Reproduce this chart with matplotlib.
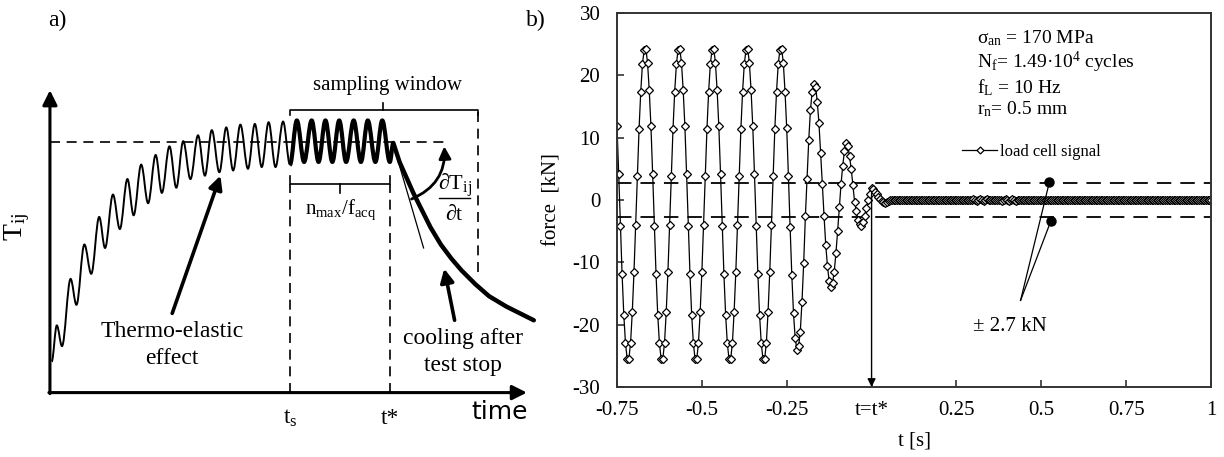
import numpy as np
import matplotlib
matplotlib.use("Agg")
import matplotlib.pyplot as plt
from matplotlib.path import Path
from matplotlib.patches import PathPatch

plt.rcParams['font.family'] = ['Liberation Serif', 'DejaVu Serif']
plt.rcParams['mathtext.fontset'] = 'custom'
plt.rcParams['mathtext.rm'] = 'Liberation Serif'
plt.rcParams['mathtext.it'] = 'Liberation Serif:italic'
plt.rcParams['axes.unicode_minus'] = False

# ---------------- panel a) : schematic temperature signal ----------------
# extremes of the oscillating temperature (arbitrary units)
rise_t = [0.5, 2.0, 3.5, 6.0, 7.7, 10.0, 12.0, 14.3, 16.0, 18.3, 20.3, 22.5, 24.3,
          26.5, 28.5, 30.7, 32.5, 34.7, 36.7, 38.7, 40.8, 43.0, 45.0, 47.0, 49.2,
          51.2, 53.2, 55.3, 57.5, 59.5, 61.5, 63.5, 65.5, 67.7, 69.7]
rise_T = [9.0, 19.5, 13.5, 33.0, 25.5, 43.0, 34.5, 51.0, 42.0, 57.5, 47.5, 62.0, 51.5,
          66.2, 55.0, 69.0, 58.0, 71.5, 59.5, 73.0, 62.0, 74.7, 63.0, 76.2, 64.0,
          77.0, 64.5, 77.8, 65.0, 78.0, 65.5, 78.5, 65.5, 78.7, 66.2]
window_t = [69.7, 71.7, 73.8, 76.0, 78.0, 80.0, 82.0, 84.0, 86.0, 88.2, 90.3,
            92.3, 94.5, 96.5, 98.7, 99.7]
window_T = [66.2, 79.0, 67.0, 79.0, 67.0, 79.0, 67.0, 79.0, 67.0, 79.0, 67.0,
            79.0, 67.0, 79.0, 67.0, 72.5]
cool_t = [99.7, 101.5, 103.5, 105.5, 108.0, 110.5, 113.5, 116.5, 119.5, 123.5,
          127.5, 132.5, 137.5, 140.5]
cool_T = [72.5, 67.0, 62.5, 58.0, 53.0, 48.0, 43.0, 39.0, 35.5, 31.5, 28.0,
          25.0, 22.5, 21.0]
mean_T = 72.8
t_s, t_star = 69.7, 98.7

# ---------------- panel b) : load cell signal ----------------
t0, dt = -0.75, 0.005
force = [
    11.8, 4.2, -4.1, -11.9, -18.4, -23.0, -25.5, -25.5, -22.9, -18.0,
    -11.6, -4.0, 3.8, 11.4, 17.4, 21.8, 24.1, 24.3, 22.0, 17.6,
    11.8, 4.2, -4.1, -11.9, -18.4, -23.0, -25.5, -25.5, -22.9, -18.0,
    -11.6, -4.0, 3.8, 11.4, 17.4, 21.8, 24.1, 24.3, 22.0, 17.6,
    11.8, 4.2, -4.1, -11.9, -18.4, -23.0, -25.5, -25.5, -22.9, -18.0,
    -11.6, -4.0, 3.8, 11.4, 17.4, 21.8, 24.1, 24.3, 22.0, 17.6,
    11.8, 4.2, -4.1, -11.9, -18.4, -23.0, -25.5, -25.5, -22.9, -18.0,
    -11.6, -4.0, 3.8, 11.4, 17.4, 21.8, 24.1, 24.3, 22.0, 17.6,
    11.8, 4.2, -4.1, -11.9, -18.4, -23.0, -25.5, -25.5, -22.9, -18.0,
    -11.6, -4.0, 3.8, 11.4, 17.4, 21.8, 24.1, 24.3,
    22.0, 17.4, 11.5, 3.9, -4.4, -12.0, -18.2, -22.2, -24.0, -23.5,
    -21.1, -16.3, -10.1, -2.6, 3.4, 9.7, 14.5, 17.4, 18.6, 18.2,
    15.8, 12.3, 7.5, 2.5, -2.6, -7.2, -10.6, -13.0, -13.9, -13.3,
    -11.5, -8.5, -5.0, -1.2, 2.5, 5.5, 7.8, 9.2, 8.7, 7.0,
    5.0, 2.4, -0.3, -1.8, -3.2, -3.9, -4.1, -3.6, -2.5, -1.3,
    0.0, 1.0, 1.9, 1.8, 1.3, 0.9, 0.5, 0.1, -0.2, -0.4,
    -0.5, -0.4, -0.2, 0.0,
    0.0, 0.0, 0.0, 0.0, 0.0, 0.0, 0.0, 0.0, 0.0, 0.0, 0.0, 0.0, 0.0, 0.0, 0.0, 0.0, 0.0, 0.0, 0.0, 0.0, 0.0,
    0.0, 0.0, 0.0, 0.0, 0.0, 0.0, 0.0, 0.0, 0.0, 0.0, 0.0, 0.0, 0.0, 0.0, 0.0, 0.0, 0.0, 0.0, 0.0, 0.0, 0.0,
    0.0, 0.0, 0.0, 0.0, 0.0, 0.0, 0.1, 0.0, -0.1, 0.0, 0.1, 0.0, -0.1, 0.0, 0.1, 0.0, 0.0, 0.0, 0.0, 0.0, 0.0,
    0.0, 0.0, -0.1, 0.0, 0.1, 0.0, -0.1, 0.0, 0.1, 0.0, -0.1, 0.0, 0.0, 0.0, 0.0, 0.0, 0.0, 0.0, 0.0, 0.0, 0.0,
    0.0, 0.0, 0.0, 0.0, 0.0, 0.0, 0.0, 0.0, 0.0, 0.0, 0.0, 0.0, 0.0, 0.0, 0.0, 0.0, 0.0, 0.0, 0.0, 0.0, 0.0,
    0.0, 0.0, 0.0, 0.0, 0.0, 0.0, 0.0, 0.0, 0.0, 0.0, 0.0, 0.0, 0.0, 0.0, 0.0, 0.0, 0.0, 0.0, 0.0, 0.0, 0.0,
    0.0, 0.0, 0.0, 0.0, 0.0, 0.0, 0.0, 0.0, 0.0, 0.0, 0.0, 0.0, 0.0, 0.0, 0.0, 0.0, 0.0, 0.0, 0.0, 0.0, 0.0,
    0.0, 0.0, 0.0, 0.0, 0.0, 0.0, 0.0, 0.0, 0.0, 0.0, 0.0, 0.0, 0.0, 0.0, 0.0, 0.0, 0.0, 0.0, 0.0, 0.0, 0.0,
    0.0, 0.0, 0.0, 0.0, 0.0, 0.0, 0.0, 0.0, 0.0, 0.0, 0.0, 0.0, 0.0, 0.0, 0.0, 0.0, 0.0, 0.0, 0.0, 0.0, 0.0,
]
time_s = t0 + dt * np.arange(len(force))
band = 2.7
dot_t = [0.524, 0.528]
dot_F = [2.9, -3.4]
xtick_vals = [-0.75, -0.5, -0.25, 0.0, 0.25, 0.5, 0.75, 1.0]
xtick_txt = ['-0.75', '-0.5', '-0.25', 't=t*', '0.25', '0.5', '0.75', '1']
ytick_vals = [-30, -20, -10, 0, 10, 20, 30]

W, H = 1224, 457
fig = plt.figure(figsize=(W / 100, H / 100), dpi=100)


def wave_path(ts, vs):
    # half-cosine like bezier between consecutive extremes
    verts = [(ts[0], vs[0])]
    codes = [Path.MOVETO]
    for i in range(1, len(ts)):
        d = ts[i] - ts[i - 1]
        verts += [(ts[i - 1] + 0.36 * d, vs[i - 1]), (ts[i] - 0.36 * d, vs[i]), (ts[i], vs[i])]
        codes += [Path.CURVE4] * 3
    return Path(verts, codes)


# ---- panel a
axa = fig.add_axes([0, 0, 540 / W, 1])
axa.set_xlim(-14.5, 142.3)
axa.set_ylim(-18.7, 114.0)
axa.axis('off')

arr = dict(arrowstyle='-|>', lw=2.2, color='black', mutation_scale=22, shrinkA=0, shrinkB=0)
axa.annotate('', xy=(0, 87.8), xytext=(0, -0.3), arrowprops=arr)
axa.annotate('', xy=(138.5, 0), xytext=(-0.3, 0), arrowprops=arr)

dash = dict(color='black', lw=1.2, dashes=(6, 4))
axa.plot([0, 115.5], [mean_T, mean_T], **dash)
axa.plot([t_s, t_s], [0, 60.5], **dash)
axa.plot([t_star, t_star], [0, 60.5], **dash)
axa.plot([124.3, 124.3], [35, 82.2], **dash)

axa.add_patch(PathPatch(wave_path(rise_t, rise_T), fill=False, lw=1.4, color='black'))
axa.add_patch(PathPatch(wave_path(window_t, window_T), fill=False, lw=3.0, color='black'))
axa.plot(cool_t, cool_T, color='black', lw=3.2, solid_capstyle='round', clip_on=False)
axa.plot([100.3, 108.5], [70, 42], color='black', lw=0.9)

# brackets
br = dict(color='black', lw=1.2)
axa.plot([69.8, 69.8, 124.3, 124.3], [80.5, 82.2, 82.2, 80.5], **br)
axa.plot([96.8, 96.8], [82.2, 84.0], **br)
axa.plot([t_s, t_s, t_star, t_star], [63, 60.5, 60.5, 63], **br)
axa.plot([84.2, 84.2], [60.5, 58.0], **br)

axa.text(98.0, 89.2, 'sampling window', ha='center', va='center', fontsize=15)
axa.text(84.5, 53.0, r'$\mathrm{n_{max}/f_{acq}}$', ha='center', va='center', fontsize=15)
axa.text(35.5, 13.8, 'Thermo-elastic\neffect', ha='center', va='center', fontsize=17,
         linespacing=1.4)
axa.text(120.0, 11.8, 'cooling after\ntest stop', ha='center', va='center', fontsize=17,
         linespacing=1.4)
axa.text(117.5, 60.3, r'$\mathrm{∂T_{ij}}$', ha='center', va='center', fontsize=16)
axa.text(117.5, 51.5, r'$\mathrm{∂t}$', ha='center', va='center', fontsize=16)
axa.plot([113.0, 122.0], [56.5, 56.5], color='black', lw=1.0)
axa.text(-9.6, 48.1, r'$\mathrm{T_{ij}}$', rotation=90, ha='center', va='center', fontsize=20)
axa.text(t_s, -7.5, r'$\mathrm{t_s}$', ha='center', va='center', fontsize=17)
axa.text(t_star, -7.5, 't*', ha='center', va='center', fontsize=17)
axa.text(130.5, -5.5, 'time', ha='center', va='center', fontsize=18, family='DejaVu Sans')

thick = dict(arrowstyle='-|>', lw=2.6, color='black', mutation_scale=20, shrinkA=0, shrinkB=0)
axa.annotate('', xy=(49.5, 63.0), xytext=(35.5, 23.0), arrowprops=thick)
axa.annotate('', xy=(114.5, 36.0), xytext=(117.5, 21.0), arrowprops=thick)
axa.annotate('', xy=(114.5, 71.5), xytext=(105.0, 56.2),
             arrowprops=dict(arrowstyle='-|>', lw=2.0, color='black', mutation_scale=18,
                             shrinkA=0, shrinkB=0, connectionstyle='arc3,rad=0.35'))

fig.text(57 / W, 1 - 20 / H, 'a)', ha='center', va='center', fontsize=17)
fig.text(536 / W, 1 - 20 / H, 'b)', ha='center', va='center', fontsize=17)

# ---- panel b
ax = fig.add_axes([617 / W, 1 - 387 / H, 594 / W, 374 / H])
ax.axhline(band, color='black', lw=1.3, dashes=(8, 5))
ax.axhline(-band, color='black', lw=1.3, dashes=(8, 5))
ax.plot(time_s, force, color='black', lw=0.9, marker='D', ms=4.4, mfc='white',
        mec='black', mew=0.9, label='load cell signal')
ax.annotate('', xy=(0.0, -30), xytext=(0.0, 1.2),
            arrowprops=dict(arrowstyle='-|>', lw=1.0, color='black', mutation_scale=12,
                            shrinkA=0, shrinkB=0))
for dtt, dF in zip(dot_t, dot_F):
    ax.plot([0.439, dtt], [-16.1, dF], color='black', lw=0.9)
ax.plot(dot_t, dot_F, 'o', color='black', ms=6.5)
ax.text(0.408, -20.3, '± 2.7 kN', ha='center', va='center', fontsize=15)

ax.text(0.31, 26.0, r'$\mathrm{σ_{an}}$ = 170 MPa', ha='left', va='center', fontsize=14)
ax.text(0.31, 22.0, r'$\mathrm{N_f}$= 1.49·10$^4$ cycles', ha='left', va='center', fontsize=14)
ax.text(0.31, 18.1, r'$\mathrm{f_L}$ = 10 Hz', ha='left', va='center', fontsize=14)
ax.text(0.31, 14.5, r'$\mathrm{r_n}$= 0.5 mm', ha='left', va='center', fontsize=14)

ax.legend(loc='center left', bbox_to_anchor=((962 - 617) / 594, 1 - (152 - 13) / 374),
          frameon=False, fontsize=12, handlelength=2.1, handletextpad=0.2,
          borderpad=0, borderaxespad=0, markerscale=0.8)

ax.set_xlim(-0.75, 1.0)
ax.set_ylim(-30, 30)
ax.set_xticks(xtick_vals)
ax.set_xticklabels(xtick_txt)
ax.set_yticks(ytick_vals)
ax.tick_params(direction='in', length=5, width=1.2, labelsize=15, color='#333333')
ax.tick_params(axis='y', pad=12)
ax.tick_params(axis='x', pad=10)
for s in ax.spines.values():
    s.set_color('#333333')
    s.set_linewidth(1.4)
ax.set_ylabel('force  [kN]', fontsize=15)
ax.yaxis.set_label_coords(-0.094, 0.5)
ax.set_xlabel('t [s]', fontsize=15)
ax.xaxis.set_label_coords(0.5, -0.12)

fig.savefig('out.png', dpi=100)
